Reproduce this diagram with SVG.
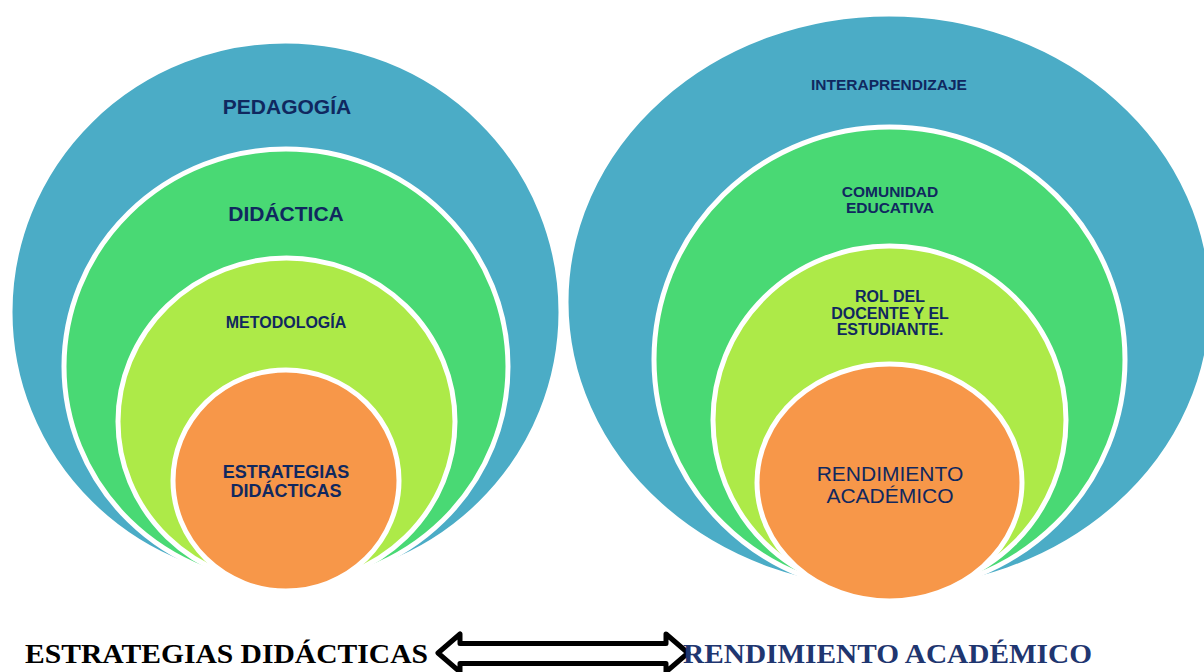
<svg xmlns="http://www.w3.org/2000/svg" width="1204" height="672" viewBox="0 0 1204 672">
<style>
.ring{stroke:#ffffff;stroke-width:5}
.blue{fill:#4bacc6}
.green{fill:#49d974}
.lime{fill:#adea48}
.orange{fill:#f79749}
.t{font-family:"Liberation Sans",Arial,sans-serif;font-weight:bold;fill:#10285f;text-anchor:middle}
.r{font-family:"Liberation Sans",Arial,sans-serif;font-weight:normal;fill:#10285f;text-anchor:middle}
.cap{font-family:"Liberation Serif","Times New Roman",serif;font-weight:bold;font-size:28px}
</style>
<rect width="1204" height="672" fill="#ffffff"/>
<g id="left-diagram">
  <g id="pedagogia">
    <ellipse class="ring blue" cx="285.5" cy="312" rx="275.5" ry="271"/>
    <text class="t" x="287" y="114" font-size="21">PEDAGOGÍA</text>
  </g>
  <g id="didactica">
    <ellipse class="ring green" cx="286" cy="366.5" rx="222" ry="217.5"/>
    <text class="t" x="286" y="221" font-size="21">DIDÁCTICA</text>
  </g>
  <g id="metodologia">
    <ellipse class="ring lime" cx="286.5" cy="421.5" rx="168.5" ry="163.5"/>
    <text class="t" x="286" y="328" font-size="16">METODOLOGÍA</text>
  </g>
  <g id="estrategias">
    <ellipse class="ring orange" cx="286" cy="480.5" rx="113" ry="110.5"/>
    <text class="t" x="286" y="478" font-size="18">ESTRATEGIAS</text>
    <text class="t" x="286" y="497" font-size="18">DIDÁCTICAS</text>
  </g>
</g>
<g id="right-diagram">
  <g id="interaprendizaje">
    <ellipse class="ring blue" cx="889" cy="302" rx="323" ry="288"/>
    <text class="t" x="889" y="90" font-size="15.5">INTERAPRENDIZAJE</text>
  </g>
  <g id="comunidad">
    <ellipse class="ring green" cx="889.5" cy="359.5" rx="235.5" ry="232.5"/>
    <text class="t" x="890" y="197" font-size="15.5">COMUNIDAD</text>
    <text class="t" x="890" y="213" font-size="15.5">EDUCATIVA</text>
  </g>
  <g id="rol">
    <ellipse class="ring lime" cx="889.5" cy="420" rx="176.5" ry="174"/>
    <text class="t" x="890" y="302" font-size="16">ROL DEL</text>
    <text class="t" x="890" y="319" font-size="16">DOCENTE Y EL</text>
    <text class="t" x="890" y="335" font-size="16">ESTUDIANTE.</text>
  </g>
  <g id="rendimiento">
    <ellipse class="ring orange" cx="889.5" cy="482.5" rx="132.5" ry="118.5"/>
    <text class="r" x="890" y="481" font-size="21">RENDIMIENTO</text>
    <text class="r" x="890" y="503" font-size="21">ACADÉMICO</text>
  </g>
</g>
<g id="label-estrategias">
  <text class="cap" x="25" y="663" fill="#000000" textLength="403" lengthAdjust="spacingAndGlyphs">ESTRATEGIAS DIDÁCTICAS</text>
</g>
<g id="connectors">
  <polygon points="438,653 460,634 460,643.5 666,643.5 666,634 688,653 666,672 666,663.5 460,663.5 460,672" fill="#ffffff" stroke="#000000" stroke-width="5" stroke-linejoin="round"/>
</g>
<g id="label-rendimiento">
  <text class="cap" x="683" y="663" fill="#1f3670" textLength="409" lengthAdjust="spacingAndGlyphs">RENDIMIENTO ACADÉMICO</text>
</g>
</svg>
